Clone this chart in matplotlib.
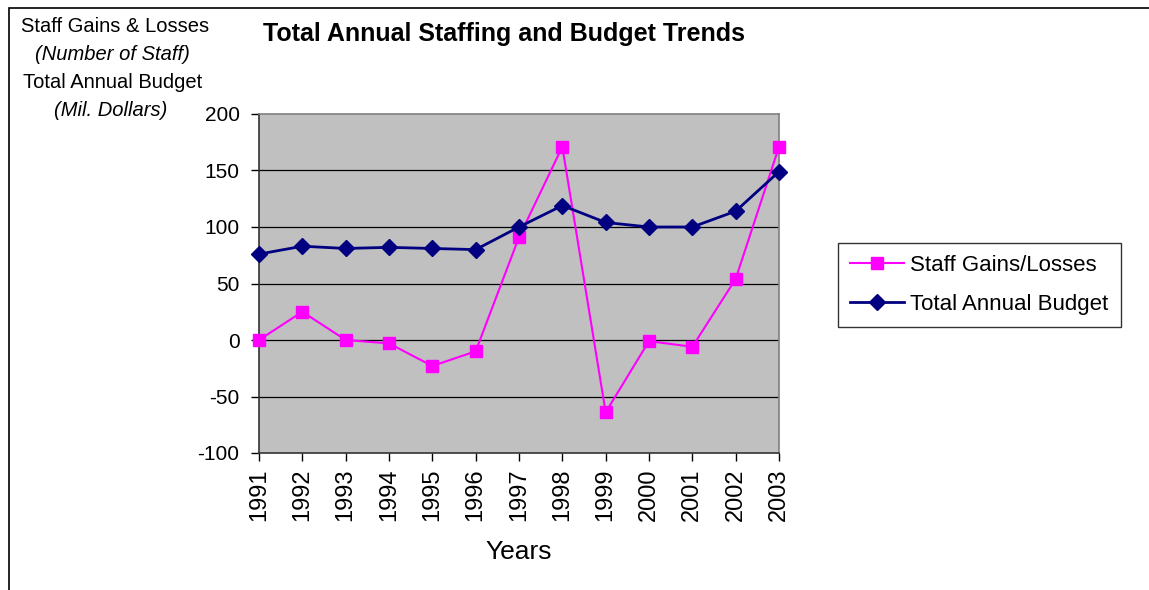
import matplotlib
import matplotlib.pyplot as plt
from matplotlib.patches import Rectangle

matplotlib.use("Agg")
plt.rcParams["font.family"] = ["Liberation Sans", "DejaVu Sans"]

years = [1991, 1992, 1993, 1994, 1995, 1996, 1997, 1998, 1999, 2000, 2001, 2002, 2003]
staff = [0, 25, 0, -3, -23, -10, 91, 171, -64, -1, -6, 54, 171]
budget = [76, 83, 81, 82, 81, 80, 100, 119, 104, 100, 100, 114, 149]

fig = plt.figure(figsize=(11.49, 5.90), dpi=100)
fig.patch.set_facecolor("white")

# outer chart frame (only top and left visible in the original)
fig.add_artist(Rectangle((9 / 1149, -0.05), 1.2, 1 - 8 / 590 + 0.05,
                         transform=fig.transFigure, fill=False,
                         edgecolor="black", linewidth=1.2))

ax = fig.add_axes([259 / 1149, 1 - 453 / 590, 520 / 1149, 339 / 590])
ax.set_facecolor("#C0C0C0")

ax.plot(years, staff, color="#FF00FF", linewidth=1.5, marker="s",
        markersize=9, label="Staff Gains/Losses", clip_on=False, zorder=3)
ax.plot(years, budget, color="#000080", linewidth=2, marker="D",
        markersize=8, label="Total Annual Budget", clip_on=False, zorder=4)

ax.set_xlim(1991, 2003)
ax.set_ylim(-100, 200)
ax.set_xticks(years)
ax.set_xticklabels([str(y) for y in years], rotation=90, fontsize=17)
ax.set_yticks(range(-100, 201, 50))
ax.set_yticklabels([str(v) for v in range(-100, 201, 50)], fontsize=15)
ax.tick_params(direction="out", length=6, width=1, colors="black")
ax.tick_params(axis="y", pad=8)
ax.tick_params(axis="x", pad=5)

for v in range(-50, 151, 50):
    ax.axhline(v, color="black", linewidth=0.9, zorder=1)

ax.spines["left"].set_color("#333333")
ax.spines["bottom"].set_color("#333333")
ax.spines["top"].set_color("#808080")
ax.spines["right"].set_color("#808080")
for s in ax.spines.values():
    s.set_linewidth(1.2)

ax.set_xlabel("Years", fontsize=19, labelpad=14)

fig.text(504 / 1149, 1 - 34 / 590, "Total Annual Staffing and Budget Trends",
         ha="center", va="center", fontsize=18, fontweight="bold")

fig.text(115 / 1149, 1 - 27 / 590, "Staff Gains & Losses", ha="center", va="center", fontsize=14.5)
fig.text(112 / 1149, 1 - 54 / 590, "(Number of Staff)", ha="center", va="center", fontsize=14.5, style="italic")
fig.text(113 / 1149, 1 - 82 / 590, "Total Annual Budget", ha="center", va="center", fontsize=14.5)
fig.text(111 / 1149, 1 - 111 / 590, "(Mil. Dollars)", ha="center", va="center", fontsize=14.5, style="italic")

leg = fig.legend(loc="upper left", bbox_to_anchor=(838 / 1149, 1 - 243 / 590),
                 fontsize=16, frameon=True, fancybox=False, edgecolor="black",
                 handlelength=2.4, borderpad=0.55, labelspacing=0.8, handletextpad=0.3,
                 borderaxespad=0)
leg.get_frame().set_linewidth(1.0)

fig.savefig("out.png", dpi=100)
